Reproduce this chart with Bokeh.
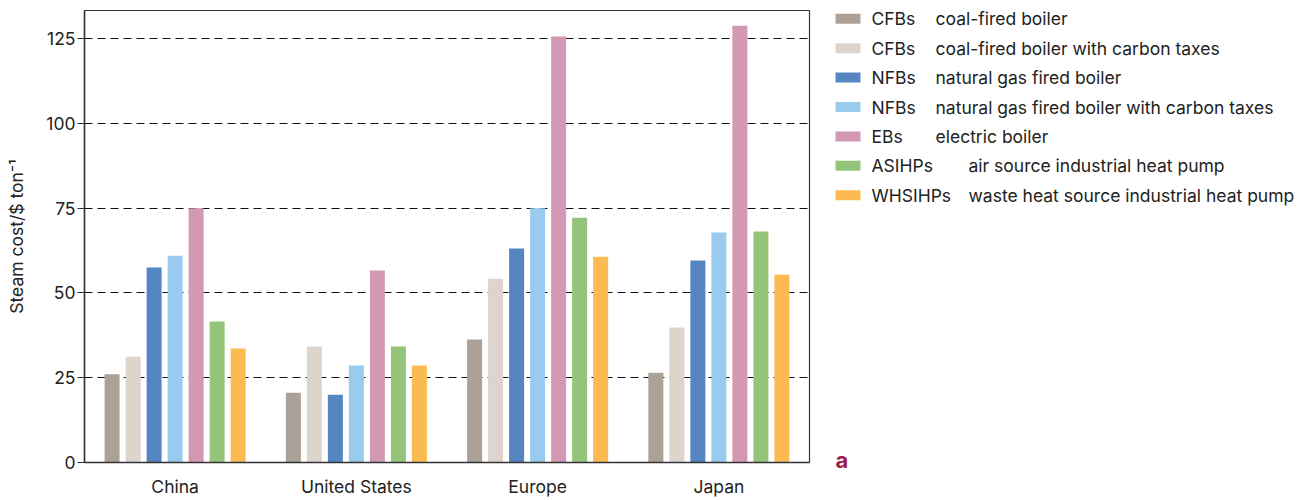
from bokeh.plotting import figure
from bokeh.models import FactorRange, Range1d, ColumnDataSource, FixedTicker
from bokeh.transform import dodge
from bokeh.layouts import row, column
from bokeh.core.properties import value
from bokeh.embed import file_html
from bokeh.resources import INLINE

regions = ["China", "United States", "Europe", "Japan"]
series_keys = ["cfb", "cfb_tax", "nfb", "nfb_tax", "eb", "asihp", "whsihp"]
abbrevs = ["CFBs", "CFBs", "NFBs", "NFBs", "EBs", "ASIHPs", "WHSIHPs"]
descriptions = ["coal-fired boiler", "coal-fired boiler with carbon taxes",
                "natural gas fired boiler", "natural gas fired boiler with carbon taxes",
                "electric boiler", "air source industrial heat pump",
                "waste heat source industrial heat pump"]
colors = ["#ABA196", "#DDD5CC", "#5586C2", "#99CBEE", "#D398B3", "#93C47A", "#FBBB52"]
panel_letter = "a"

cfb = [26.0, 20.6, 36.3, 26.5]
cfb_tax = [31.2, 34.2, 54.2, 39.8]
nfb = [57.5, 20.0, 63.1, 59.6]
nfb_tax = [61.0, 28.6, 75.0, 67.8]
eb = [75.0, 56.6, 125.6, 128.8]
asihp = [41.6, 34.2, 72.2, 68.1]
whsihp = [33.6, 28.6, 60.7, 55.4]
y_ticks = [0, 25, 50, 75, 100, 125]

FONT = "Inter"
FS = "17.5px"

data = dict(region=regions, cfb=cfb, cfb_tax=cfb_tax, nfb=nfb, nfb_tax=nfb_tax,
            eb=eb, asihp=asihp, whsihp=whsihp)
src = ColumnDataSource(data)

p = figure(x_range=FactorRange(*regions, range_padding=0), y_range=Range1d(0, 133.3),
           frame_width=725, frame_height=452, width=820, height=500,
           min_border_left=84, min_border_top=10, min_border_bottom=38, min_border_right=11,
           output_backend="svg", toolbar_location=None)

n = len(series_keys)
step = 0.1159
for i, key in enumerate(series_keys):
    off = (i - (n - 1) / 2) * step
    p.vbar(x=dodge("region", off, range=p.x_range), top=key, width=0.0828,
           source=src, color=colors[i], line_color=None)

p.xgrid.visible = False
p.ygrid.ticker = FixedTicker(ticks=[t for t in y_ticks if t > 0])
p.ygrid.grid_line_color = "#111111"
p.ygrid.grid_line_dash = "8 5"
p.ygrid.grid_line_width = 1.2

p.yaxis.ticker = FixedTicker(ticks=y_ticks)
p.yaxis.axis_label = "Steam cost/$ ton⁻¹"
p.yaxis.axis_label_text_font = FONT
p.yaxis.axis_label_text_font_style = "normal"
p.yaxis.axis_label_text_font_size = FS
p.yaxis.axis_label_text_color = "#222222"
p.yaxis.axis_label_standoff = 16
p.yaxis.major_tick_out = 7
p.yaxis.major_tick_in = 0
p.yaxis.minor_tick_out = 0
p.yaxis.minor_tick_in = 0
p.yaxis.major_label_standoff = 2

p.xaxis.major_tick_out = 0
p.xaxis.major_tick_in = 0
p.xaxis.major_label_standoff = 13

for ax in (p.xaxis, p.yaxis):
    ax.major_label_text_font = FONT
    ax.major_label_text_font_size = FS
    ax.major_label_text_color = "#222222"
    ax.axis_line_color = "#333333"
    ax.axis_line_width = 1.5
    ax.major_tick_line_color = "#333333"

p.outline_line_color = "#333333"
p.outline_line_width = 1.2

# legend panel in pixel coordinates (y down)
lg = figure(width=487, height=500, frame_width=487, frame_height=500,
            x_range=Range1d(0, 487), y_range=Range1d(500, 0),
            min_border=0, output_backend="svg", toolbar_location=None)
lg.axis.visible = False
lg.grid.visible = False
lg.outline_line_color = None

row_y = [18.3 + 29.4 * i for i in range(n)]
lg.rect(x=[27.5] * n, y=row_y, width=25, height=10, color=colors, line_color=None)
lg.text(x=[51] * n, y=row_y, text=abbrevs, text_font=value(FONT), text_font_size=FS,
        text_baseline="middle", text_color="#222222")
desc_x = [148 if len(a) > 4 else 115 for a in abbrevs]
lg.text(x=desc_x, y=row_y, text=descriptions, text_font=value(FONT), text_font_size=FS,
        text_baseline="middle", text_color="#222222")
lg.text(x=[15], y=[459], text=[panel_letter], text_font=value(FONT), text_font_size="22px",
        text_font_style="bold", text_baseline="alphabetic", text_color="#9B1D4E")

layout = row(p, column(lg), spacing=0)
open("out.html", "w").write(file_html(layout, INLINE))
